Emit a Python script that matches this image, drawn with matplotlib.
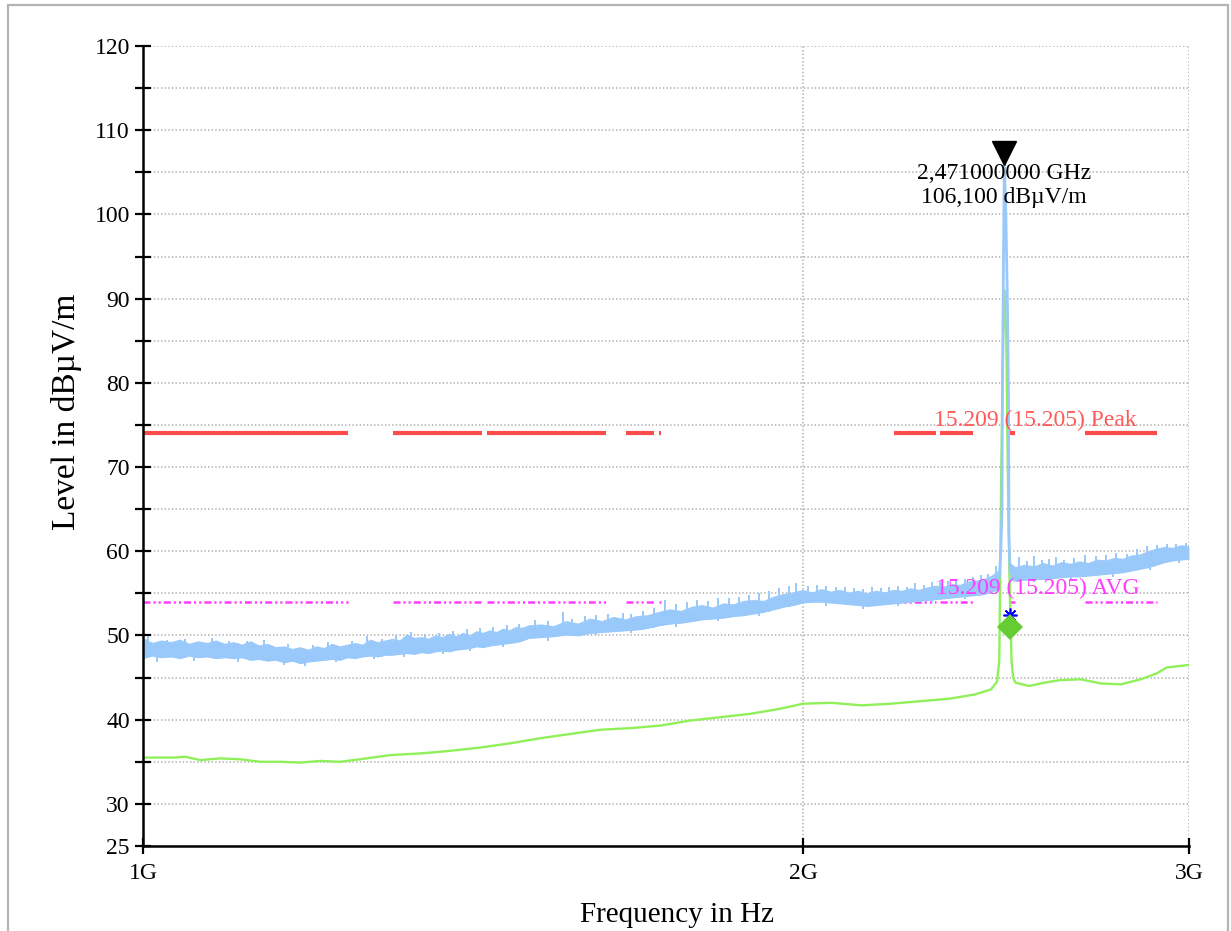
"""
EMC radiated emission scan 1-3 GHz: peak and average traces against the
15.209 (15.205) limits, log frequency axis.
"""

import matplotlib
matplotlib.use("Agg")
import matplotlib.pyplot as plt
import matplotlib.transforms as mtransforms
from matplotlib.patches import Rectangle
from matplotlib.ticker import FixedLocator, FuncFormatter, NullLocator

plt.rcParams["font.family"] = ["Liberation Serif", "DejaVu Serif"]
plt.rcParams["lines.scale_dashes"] = False

# ─── DATA ─────────────────────────────────────────────────────────────────────
# peak trace, noise band below the carrier (GHz, upper / lower edge dBµV/m)
pk_freq_a = [1.00, 1.01, 1.02, 1.03, 1.04, 1.05, 1.06, 1.07, 1.08, 1.09,
             1.10, 1.11, 1.12, 1.13, 1.14, 1.15, 1.16, 1.17, 1.18, 1.19,
             1.20, 1.21, 1.22, 1.23, 1.24, 1.25, 1.26, 1.27, 1.28, 1.29,
             1.30, 1.31, 1.32, 1.33, 1.34, 1.35, 1.36, 1.37, 1.38, 1.39,
             1.40, 1.41, 1.42, 1.43, 1.44, 1.45, 1.46, 1.47, 1.48, 1.49, 1.50,
             1.52, 1.54, 1.56, 1.58, 1.60, 1.62, 1.64, 1.66, 1.68, 1.70,
             1.72, 1.74, 1.76, 1.78, 1.80, 1.82, 1.84, 1.86, 1.88, 1.90,
             1.92, 1.94, 1.96, 1.98, 2.00, 2.02, 2.04, 2.06, 2.08, 2.10,
             2.12, 2.14, 2.16, 2.18, 2.20, 2.22, 2.24, 2.26, 2.28, 2.30,
             2.32, 2.34, 2.36, 2.38, 2.40, 2.42, 2.44, 2.458]
pk_hi_a = [49.6, 49.0, 49.3, 49.1, 49.4, 48.9, 49.2, 49.0, 49.3, 48.9,
           49.1, 48.8, 49.2, 48.7, 48.9, 48.5, 48.6, 48.3, 48.5, 48.2,
           48.6, 48.4, 48.9, 48.6, 48.8, 49.0, 48.8, 49.4, 49.1, 49.3,
           49.5, 49.3, 50.0, 49.6, 49.7, 49.5, 49.9, 49.7, 50.1, 49.8,
           50.2, 49.9, 50.4, 50.2, 50.5, 50.3, 50.7, 50.5, 50.9, 50.8, 51.1,
           51.2, 51.0, 51.6, 51.3, 51.9, 51.6, 52.1, 51.8, 52.2, 52.3,
           52.7, 53.0, 52.8, 53.3, 53.5, 53.2, 53.7, 53.6, 54.0, 54.1,
           54.0, 54.5, 54.8, 55.0, 55.3, 55.0, 55.4, 55.1, 55.3, 55.0,
           55.2, 54.9, 55.2, 55.0, 55.3, 55.2, 55.5, 55.3, 55.6, 55.8,
           55.7, 56.0, 55.9, 56.3, 56.4, 56.6, 57.0, 57.6]
pk_lo_a = [47.3, 47.6, 47.4, 47.5, 47.3, 47.6, 47.4, 47.5, 47.3, 47.4,
           47.3, 47.4, 47.1, 47.2, 47.0, 47.1, 46.8, 47.0, 46.7, 46.9,
           47.0, 47.1, 47.2, 47.1, 47.4, 47.3, 47.5, 47.6, 47.5, 47.7,
           47.7, 47.8, 47.9, 47.8, 48.0, 47.9, 48.1, 48.2, 48.1, 48.3,
           48.4, 48.5, 48.7, 48.6, 48.8, 48.9, 49.0, 49.1, 49.2, 49.4, 49.7,
           49.8, 49.9, 50.1, 50.0, 50.3, 50.4, 50.5, 50.6, 50.7, 50.9,
           51.2, 51.4, 51.5, 51.7, 51.9, 52.0, 52.1, 52.3, 52.4, 52.6,
           52.8, 53.1, 53.4, 53.6, 53.9, 54.0, 54.0, 53.9, 53.8, 53.7,
           53.6, 53.5, 53.6, 53.7, 53.8, 53.9, 54.0, 54.1, 54.2, 54.3,
           54.4, 54.5, 54.6, 54.7, 54.8, 54.9, 55.2, 55.5]

# peak trace, noise band above the carrier
pk_freq_b = [2.486, 2.50, 2.525, 2.55, 2.575, 2.60, 2.625, 2.65, 2.675, 2.70,
             2.725, 2.75, 2.775, 2.80, 2.825, 2.85, 2.875, 2.90, 2.925, 2.95,
             2.975, 3.00]
pk_hi_b = [58.5, 58.0, 58.3, 58.1, 58.5, 58.2, 58.6, 58.4, 58.7, 58.5,
           58.9, 58.8, 59.1, 59.0, 59.4, 59.5, 59.9, 60.2, 60.4, 60.3,
           60.6, 60.5]
pk_lo_b = [56.6, 56.5, 56.6, 56.7, 56.7, 56.8, 56.9, 57.0, 57.0, 57.1,
           57.2, 57.3, 57.4, 57.5, 57.7, 57.9, 58.1, 58.4, 58.7, 58.9,
           59.0, 59.1]

# noise spikes above the band (GHz, top dBµV/m)
spike_freq = [1.005, 1.025, 1.045, 1.075, 1.095, 1.115, 1.135, 1.165, 1.195, 1.215,
              1.245, 1.265, 1.285, 1.305, 1.325, 1.345, 1.365, 1.385, 1.405, 1.425,
              1.445, 1.465, 1.485, 1.51, 1.53, 1.555, 1.57, 1.59, 1.61, 1.63,
              1.655, 1.67, 1.69, 1.71, 1.73, 1.75, 1.77, 1.79, 1.81, 1.83,
              1.85, 1.87, 1.89, 1.91, 1.93, 1.95, 1.97, 1.985, 2.01, 2.03,
              2.05, 2.07, 2.09, 2.11, 2.13, 2.15, 2.17, 2.19, 2.21, 2.23,
              2.25, 2.27, 2.29, 2.31, 2.33, 2.35, 2.37, 2.39, 2.41, 2.43,
              2.45, 2.51, 2.53, 2.55, 2.57, 2.59, 2.61, 2.63, 2.66, 2.69,
              2.72, 2.75, 2.78, 2.81, 2.84, 2.87, 2.90, 2.93, 2.96, 2.99]
spike_top = [49.9, 49.5, 49.6, 49.7, 49.3, 49.4, 49.5, 49.0, 48.9, 49.2,
             49.3, 49.9, 49.6, 50.0, 50.4, 50.2, 50.3, 50.5, 50.8, 50.9,
             51.0, 51.3, 51.4, 51.8, 51.7, 52.8, 52.0, 52.3, 52.4, 52.6,
             52.7, 52.6, 52.9, 53.3, 54.2, 53.7, 54.0, 54.2, 54.1, 54.5,
             54.4, 54.6, 54.8, 55.0, 55.3, 55.6, 55.9, 56.2, 55.9, 56.0,
             55.9, 55.7, 55.8, 55.6, 55.5, 55.8, 55.6, 55.7, 55.9, 55.8,
             56.2, 56.0, 56.3, 56.4, 56.5, 56.6, 56.7, 57.0, 57.2, 57.3,
             58.2, 59.3, 58.9, 59.4, 59.0, 59.1, 59.3, 59.0, 59.2, 59.5,
             59.4, 59.6, 59.8, 59.7, 60.3, 60.6, 60.8, 60.9, 60.9, 61.0]

# noise dips below the band (GHz, bottom dBµV/m)
dip_freq = [1.015, 1.055, 1.105, 1.16, 1.185, 1.225, 1.275, 1.315, 1.37, 1.41,
            1.46, 1.53, 1.61, 1.67, 1.75, 1.83, 1.91, 2.05, 2.13, 2.21,
            2.29, 2.37, 2.55, 2.65, 2.77, 2.88, 2.97]
dip_bottom = [46.9, 47.0, 46.9, 46.5, 46.4, 46.8, 47.2, 47.4, 47.8, 48.1,
              48.6, 49.4, 50.0, 50.3, 51.0, 51.7, 52.3, 53.5, 53.2, 53.5,
              53.8, 54.3, 56.3, 56.6, 57.0, 57.8, 58.6]

# carrier on the peak trace
carrier_freq = [2.458, 2.462, 2.465, 2.466, 2.469, 2.471, 2.475, 2.479,
                2.482, 2.483, 2.486]
carrier_val = [57.0, 60.0, 65.0, 78.0, 95.0, 106.1, 100.0, 90.0, 78.0, 62.0, 57.5]

# average trace
av_freq = [1.000, 1.034, 1.045, 1.062, 1.084, 1.107, 1.131, 1.155, 1.179, 1.205,
           1.230, 1.256, 1.297, 1.339, 1.381, 1.426, 1.471, 1.518, 1.566, 1.616,
           1.669, 1.722, 1.777, 1.834, 1.893, 1.953, 2.000, 2.061, 2.127, 2.194,
           2.263, 2.334, 2.396, 2.437, 2.452, 2.458, 2.461, 2.463, 2.468, 2.472,
           2.476, 2.480, 2.484, 2.487, 2.490, 2.494, 2.500, 2.536, 2.578, 2.620,
           2.677, 2.735, 2.793, 2.852, 2.900, 2.931, 3.000]
av_val = [35.5, 35.5, 35.6, 35.2, 35.4, 35.3, 35.0, 35.0, 34.9, 35.1,
          35.0, 35.3, 35.8, 36.0, 36.3, 36.7, 37.2, 37.8, 38.3, 38.8,
          39.0, 39.3, 39.9, 40.3, 40.7, 41.3, 41.9, 42.0, 41.7, 41.9,
          42.2, 42.5, 43.0, 43.6, 44.5, 47.0, 60.0, 69.0, 85.0, 91.0,
          86.0, 70.0, 58.0, 51.5, 47.0, 45.0, 44.4, 44.0, 44.4, 44.7,
          44.8, 44.3, 44.2, 44.8, 45.5, 46.2, 46.5]

# limits: drawn only inside the restricted bands (GHz)
restricted_bands = [(0.96, 1.24), (1.30, 1.427), (1.435, 1.6265),
                    (1.66, 1.71), (1.7188, 1.7222), (2.20, 2.30), (2.31, 2.39),
                    (2.4835, 2.50), (2.69, 2.90)]
LIMIT_PEAK = 74.0
LIMIT_AVG = 54.0
LIMIT_PEAK_LABEL = "15.209 (15.205) Peak"
LIMIT_AVG_LABEL = "15.209 (15.205) AVG"

# markers
MARKER_FREQ = 2.471
MARKER_LEVEL = 106.1
MARKER_TEXT = "2,471000000 GHz\n106,100 dBµV/m"
AV_MARK_FREQ = 2.487
AV_MARK_LEVEL = 51.0
PK_MARK_LEVEL = 52.4

x_ticks = [1, 2, 3]
x_tick_labels = ["1G", "2G", "3G"]
y_ticks = list(range(25, 121, 5))
y_labelled = [25, 30, 40, 50, 60, 70, 80, 90, 100, 110, 120]

# ─── COLOURS ──────────────────────────────────────────────────────────────────
BLUE = "#99C9FA"
GREEN = "#90F05A"
RED = "#FF4B4B"
RED_TXT = "#FF5A5A"
MAGENTA = "#FF3CFF"
GRID = "#BDBDBD"

# ─── FIGURE ───────────────────────────────────────────────────────────────────
W, H = 1231, 931
fig = plt.figure(figsize=(W / 100, H / 100), dpi=100)
fig.patches.append(Rectangle((8 / W, -0.02), 1220 / W, 1 - 5 / H + 0.02,
                             transform=fig.transFigure, fill=False,
                             edgecolor="#B4B4B4", linewidth=1.6))
ax = fig.add_axes([143 / W, 85 / H, 1046 / W, 800 / H])
ax.set_xscale("log")
ax.set_xlim(1, 3)
ax.set_ylim(25, 120)

# limit lines
for lo, hi in restricted_bands:
    ax.hlines(LIMIT_PEAK, max(lo, 1), hi, color=RED, linewidth=3.0,
              capstyle="butt", zorder=3)
    ax.hlines(LIMIT_AVG, max(lo, 1), hi, color=MAGENTA, linewidth=1.8,
              linestyles=[(0, (5, 2.2, 1.5, 2.2, 1.5, 2.2))], zorder=3)

# average trace (under the peak trace)
ax.plot(av_freq, av_val, color=GREEN, linewidth=1.7, zorder=4)

# peak trace: noisy band + carrier
for fq, lo_v, hi_v in ((pk_freq_a, pk_lo_a, pk_hi_a), (pk_freq_b, pk_lo_b, pk_hi_b)):
    ax.fill_between(fq, lo_v, hi_v, color=BLUE, linewidth=0, zorder=5)
    ax.plot(fq, hi_v, color=BLUE, linewidth=1.3, zorder=5)
    ax.plot(fq, lo_v, color=BLUE, linewidth=1.3, zorder=5)

band = dict(zip(pk_freq_a + pk_freq_b, zip(pk_lo_a + pk_lo_b, pk_hi_a + pk_hi_b)))


def nearest(f):
    return band[min(band, key=lambda k: abs(k - f))]


for f, top in zip(spike_freq, spike_top):
    ax.vlines(f, nearest(f)[0], top, color=BLUE, linewidth=1.4, zorder=5)
for f, bot in zip(dip_freq, dip_bottom):
    ax.vlines(f, bot, nearest(f)[1], color=BLUE, linewidth=1.4, zorder=5)
ax.plot(carrier_freq, carrier_val, color=BLUE, linewidth=2.0, zorder=5)

# markers
up = mtransforms.offset_copy(ax.transData, fig=fig, x=0, y=10, units="dots")
ax.plot(MARKER_FREQ, MARKER_LEVEL, marker="v", color="black", markersize=17,
        transform=up, zorder=7, clip_on=False)
ax.annotate(MARKER_TEXT, xy=(MARKER_FREQ, MARKER_LEVEL), xytext=(0, 0),
            textcoords="offset points", ha="center", va="top",
            fontsize=17, linespacing=1.2, zorder=8)
ax.plot(AV_MARK_FREQ, PK_MARK_LEVEL, marker=(8, 2, 0), color="#0000FF",
        markersize=10, markeredgewidth=1.2, zorder=6)
ax.plot(AV_MARK_FREQ, AV_MARK_LEVEL, marker="D", color="#66CC33",
        markersize=13, markeredgewidth=0, zorder=7)

# limit labels
ax.annotate(LIMIT_PEAK_LABEL, xy=(2.552, LIMIT_PEAK), xytext=(0, 2),
            textcoords="offset points", ha="center", va="bottom",
            fontsize=17, color=RED_TXT, zorder=8)
ax.annotate(LIMIT_AVG_LABEL, xy=(2.56, LIMIT_AVG), xytext=(0, 2),
            textcoords="offset points", ha="center", va="bottom",
            fontsize=17, color=MAGENTA, zorder=8)

# ─── AXES ─────────────────────────────────────────────────────────────────────
ax.xaxis.set_major_locator(FixedLocator(x_ticks))
ax.xaxis.set_minor_locator(NullLocator())
ax.set_xticklabels(x_tick_labels)
ax.yaxis.set_major_locator(FixedLocator(y_ticks))
ax.yaxis.set_major_formatter(FuncFormatter(
    lambda v, _: f"{v:.0f}" if round(v) in y_labelled else ""))
ax.tick_params(axis="both", direction="inout", length=11, width=1.6,
               labelsize=17, color="black")
ax.tick_params(axis="x", pad=7)
ax.tick_params(axis="y", pad=4)
ax.grid(True, color=GRID, linestyle=(0, (1, 1.6)), linewidth=1.4, zorder=0)
ax.set_axisbelow(True)
for side in ("top", "right"):
    ax.spines[side].set_visible(False)
for side in ("left", "bottom"):
    ax.spines[side].set_linewidth(1.8)
    ax.spines[side].set_zorder(6)

fig.text(677 / W, 1 - 915 / H, "Frequency in Hz", ha="center", va="center",
         fontsize=21)
fig.text(67 / W, 1 - 412 / H, "Level in dBµV/m", ha="center", va="center",
         rotation=90, fontsize=24)

fig.savefig("out.png", dpi=100)
